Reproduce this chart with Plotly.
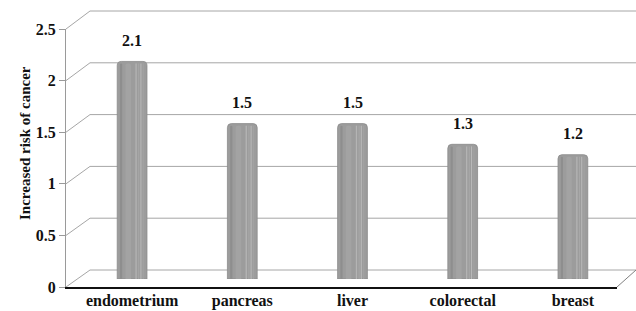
import plotly.graph_objects as go

categories = ["endometrium", "pancreas", "liver", "colorectal", "breast"]
risk = [2.1, 1.5, 1.5, 1.3, 1.2]
value_labels = ["2.1", "1.5", "1.5", "1.3", "1.2"]
tick_vals = [0, 0.5, 1, 1.5, 2, 2.5]
tick_text = ["0", "0.5", "1", "1.5", "2", "2.5"]

W, H = 636, 311
YMAX = 2.5
FONT = "Liberation Serif, Times New Roman, serif"

def px_x(p):
    return p / W

def px_y(p):
    return 1 - p / H

# pixel geometry of the pseudo-3D box
front = dict(x0=66, x1=617, ytop=29, ybot=287)
back = dict(x0=90, x1=636, ytop=11, ybot=270)
mid = dict(x0=77, x1=628, ytop=20, ybot=279)

GRID = "#a6a6a6"

fig = go.Figure()

# front axis holder
fig.add_trace(go.Scatter(x=[0], y=[0], mode="markers", marker=dict(opacity=0),
                         xaxis="x", yaxis="y", showlegend=False, hoverinfo="skip"))

# bars (cylinders), drawn on the middle depth plane
bw = 0.27
fig.add_trace(go.Bar(x=categories, y=risk, xaxis="x2", yaxis="y2",
                     width=bw, offset=-bw / 2,
                     marker=dict(color="#9c9c9c", line=dict(color="#8a8a8a", width=0.8)),
                     showlegend=False, hoverinfo="skip"))
stripe_specs = [(-0.06, 0.05, "#a3a3a3"),
                (0.03, 0.012, "#b4b4b4"), (0.055, 0.01, "#a8a8a8"),
                (0.075, 0.01, "#b8b8b8"), (0.095, 0.012, "#a2a2a2"),
                (-0.11, 0.02, "#8e8e8e")]
for off, w, c in stripe_specs:
    fig.add_trace(go.Bar(x=categories, y=[v - 0.02 for v in risk], xaxis="x2", yaxis="y2",
                         width=w, offset=off,
                         marker=dict(color=c, line=dict(width=0)),
                         showlegend=False, hoverinfo="skip"))

# value labels
for c, v, t in zip(categories, risk, value_labels):
    fig.add_annotation(x=c, y=v, xref="x2", yref="y2", text="<b>%s</b>" % t,
                       showarrow=False, yanchor="middle", yshift=21, xshift=0,
                       font=dict(family=FONT, size=16, color="#111"))

shapes = []
def fy(v):
    return px_y(front["ybot"] - (front["ybot"] - front["ytop"]) * v / YMAX)
def by(v):
    return px_y(back["ybot"] - (back["ybot"] - back["ytop"]) * v / YMAX)

for v in tick_vals:
    # side diagonal
    shapes.append(dict(type="line", xref="paper", yref="paper",
                       x0=px_x(front["x0"]), y0=fy(v), x1=px_x(back["x0"]), y1=by(v),
                       line=dict(color=GRID, width=1), layer="below"))
    # back wall gridline
    shapes.append(dict(type="line", xref="paper", yref="paper",
                       x0=px_x(back["x0"]), y0=by(v), x1=px_x(back["x1"]) + 0.01, y1=by(v),
                       line=dict(color=GRID, width=1), layer="below"))
# right floor diagonal
shapes.append(dict(type="line", xref="paper", yref="paper",
                   x0=px_x(front["x1"]), y0=fy(0), x1=px_x(back["x1"]), y1=by(0),
                   line=dict(color="#808080", width=1), layer="below"))

fig.update_layout(
    width=W, height=H,
    margin=dict(l=0, r=0, t=0, b=0, autoexpand=False),
    paper_bgcolor="white", plot_bgcolor="rgba(0,0,0,0)",
    barmode="overlay",
    barcornerradius=4,
    shapes=shapes,
    xaxis=dict(domain=[px_x(front["x0"]), px_x(front["x1"])], range=[0, 1],
               anchor="y", showgrid=False, zeroline=False, showticklabels=False,
               showline=True, linecolor="#111", linewidth=1.6, automargin=False),
    yaxis=dict(domain=[px_y(front["ybot"]), px_y(front["ytop"])], range=[0, YMAX],
               anchor="x", tickvals=tick_vals, ticktext=tick_text,
               showgrid=False, zeroline=False, showline=True, linecolor="#9a9a9a",
               linewidth=1, ticks="outside", ticklen=6, tickcolor="#9a9a9a",
               automargin=False,
               tickfont=dict(family=FONT, size=16, color="#111", weight="bold")),
    xaxis2=dict(domain=[px_x(mid["x0"]), px_x(mid["x1"])], anchor="y2",
                showgrid=False, zeroline=False, showline=False,
                ticks="", ticklabelstandoff=10, automargin=False,
                tickfont=dict(family=FONT, size=16, color="#111", weight="bold")),
    yaxis2=dict(domain=[px_y(mid["ybot"]), px_y(mid["ytop"])], range=[0, YMAX],
                anchor="x2", showgrid=False, zeroline=False, showticklabels=False,
                showline=False, automargin=False),
)

fig.add_annotation(x=px_x(15), y=px_y(143), xref="paper", yref="paper",
                   text="<b>Increased risk of cancer</b>", textangle=-90,
                   showarrow=False, font=dict(family=FONT, size=15, color="#111"))

fig.write_html("out.html",
               config={"displayModeBar": False, "staticPlot": True},
               post_script="document.body.style.margin='0';document.body.style.overflow='hidden';")
